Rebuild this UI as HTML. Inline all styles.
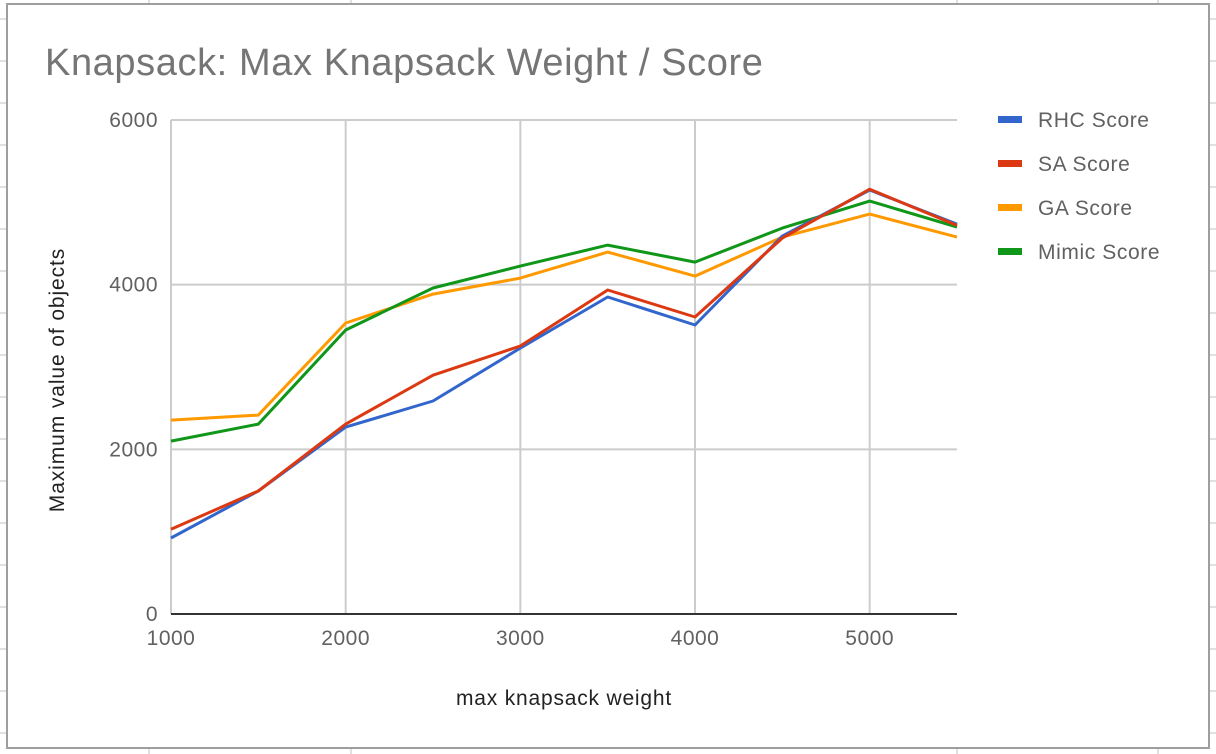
<!DOCTYPE html>
<html><head><meta charset="utf-8"><style>
html,body{margin:0;padding:0;background:#fff;}
svg{display:block;font-family:"Liberation Sans",Arial,sans-serif;}
</style></head><body>
<svg id="chart" width="1216" height="754" viewBox="0 0 1216 754">
<g id="bg"></g>
<rect x="7" y="4" width="1202" height="744" fill="#fff" stroke="#9e9e9e" stroke-width="2"/>
<text x="45" y="75" font-size="38" letter-spacing="0.6" fill="#757575">Knapsack: Max Knapsack Weight / Score</text>
<g id="grid"></g>
<g id="yticks"></g>
<g id="xticks"></g>
<g id="series"></g>
<line x1="171" y1="614" x2="957" y2="614" stroke="#333" stroke-width="2"/>
<text x="564" y="705" font-size="21" letter-spacing="0.8" fill="#222" text-anchor="middle">max knapsack weight</text>
<text transform="translate(64,380) rotate(-90)" font-size="21" letter-spacing="0.9" fill="#222" text-anchor="middle">Maximum value of objects</text>
<g id="legend"></g>
</svg>
<script>
const categories=[1000,1500,2000,2500,3000,3500,4000,4500,5000,5500];
const rhcScore=[923,1494,2270,2587,3230,3850,3510,4590,5150,4735];
const saScore=[1030,1494,2307,2900,3255,3935,3607,4566,5160,4720];
const gaScore=[2355,2416,3534,3886,4080,4396,4104,4578,4857,4578];
const mimicScore=[2100,2307,3449,3959,4226,4481,4274,4687,5015,4700];
const seriesNames=["RHC Score","SA Score","GA Score","Mimic Score"];
const yTicks=[0,2000,4000,6000];
const xTicks=[1000,2000,3000,4000,5000];
const NS="http://www.w3.org/2000/svg";
const X=v=>171+(v-1000)*(957-171)/4500;
const Y=v=>614-v*(614-120)/6000;
function mk(t,a,p){const e=document.createElementNS(NS,t);for(const k in a)e.setAttribute(k,a[k]);p.appendChild(e);return e;}
const bg=document.getElementById('bg');
[149,351,957,1158].forEach(x=>{const l=mk('line',{x1:x,y1:0,x2:x,y2:754,stroke:'#e0e0e0','stroke-width':2},bg);

});
for(let y=19;y<754;y+=42){const l=mk('line',{x1:0,y1:y,x2:1216,y2:y,stroke:'#e0e0e0','stroke-width':2},bg);

}
const grid=document.getElementById('grid');
yTicks.forEach(v=>{const l=mk('line',{x1:171,y1:Y(v),x2:957,y2:Y(v),stroke:'#ccc','stroke-width':2},grid);


const t=mk('text',{x:158,y:Y(v)+7,'font-size':21,'letter-spacing':0.5,fill:'#616161','text-anchor':'end'},document.getElementById('yticks'));


t.textContent=v;});
xTicks.forEach(v=>{const l=mk('line',{x1:X(v),y1:120,x2:X(v),y2:614,stroke:'#ccc','stroke-width':2},grid);


const t=mk('text',{x:X(v),y:645,'font-size':21,'letter-spacing':0.5,fill:'#616161','text-anchor':'middle'},document.getElementById('xticks'));


t.textContent=v;});
const colors=['#3366cc','#dc3912','#ff9900','#109618'];
const data=[rhcScore,saScore,gaScore,mimicScore];
const sg=document.getElementById('series');
[2,3,0,1].forEach(i=>{const d=data[i].map((v,j)=>(j?'L':'M')+X(categories[j]).toFixed(1)+' '+Y(v).toFixed(1)).join(' ');
const p=mk('path',{d:d,fill:'none',stroke:colors[i],'stroke-width':3,'stroke-linejoin':'round'},sg);

});
const lg=document.getElementById('legend');
seriesNames.forEach((n,i)=>{const y=120+i*44;
const r=mk('rect',{x:998,y:y-4,width:24,height:7,fill:colors[i]},lg);


const t=mk('text',{x:1038,y:y+7,'font-size':21,'letter-spacing':0.6,fill:'#616161'},lg);


t.textContent=n;});
</script>
</body></html>
